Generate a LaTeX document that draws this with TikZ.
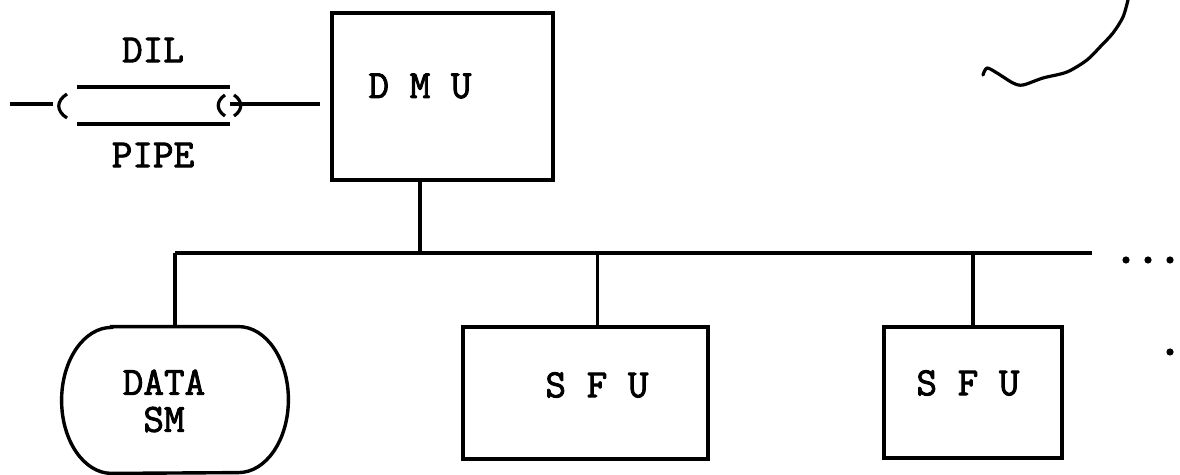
\documentclass[tikz,border=0pt]{standalone}
\usepackage{fontspec}
\newfontfamily\printfont{Latin Modern Mono}[FakeBold=2.2, AutoFakeBold=2.2]
\usepackage{tikz}
\usetikzlibrary{calc}

\begin{document}
\begin{tikzpicture}[x=0.5pt,y=-0.5pt,
    wire/.style={line width=1.6pt},
    unitbox/.style={draw, line width=1.7pt, inner sep=0pt},
    lbl/.style={font=\printfont\bfseries\fontsize{20}{18.5}\selectfont, inner sep=0pt, align=center}]
    \useasboundingbox (0,0) rectangle (1180,475);
    \node[lbl] (dil) at (153,50) {DIL};
    \node[lbl] (pipe) at (153,155) {PIPE};
    \coordinate (pipein) at (10,104); \coordinate (capl) at (53,104);
    \coordinate (capr) at (230,104); \coordinate (pipeout) at (320,104);
    \draw[wire] (pipein) -- (capl);
    \draw[wire] (67,94) .. controls (56,101) and (56,111) .. (67,118);
    \draw[wire] (77,87) -- (230,87);
    \draw[wire] (77,124) -- (230,124);
    \draw[wire] (225,95) .. controls (216,101) and (216,110) .. (225,116);
    \draw[wire] (234,95) .. controls (243,101) and (243,110) .. (234,116);
    \draw[wire] (capr) -- (pipeout);
    \node[unitbox, minimum width=110.5pt, minimum height=83.5pt] (dmu) at (442.5,96.5) {};
    \node[lbl] (dmulbl) at (420,86) {D M U};
    \node[inner sep=0pt, minimum width=113pt, minimum height=73pt] (dsm) at (175,400) {};
    \draw[line width=1.7pt] ($(dsm.north west)+(50,0)$) -- ($(dsm.north east)+(-50,0)$)
        arc[start angle=90, end angle=-90, x radius=25pt, y radius=36.5pt]
        -- ($(dsm.south west)+(50,0)$)
        arc[start angle=270, end angle=90, x radius=25pt, y radius=36.5pt] -- cycle;
    \node[lbl] (dsmlbl) at (164,401) {DATA\\SM};
    \node[unitbox, minimum width=122.5pt, minimum height=66pt] (sfua) at (585.5,393) {};
    \node[lbl] (sfualbl) at (597,385) {S F U};
    \node[unitbox, minimum width=89pt, minimum height=65.5pt] (sfub) at (973,392.5) {};
    \node[lbl] (sfublbl) at (968,383) {S F U};
    \coordinate (busl) at (175,253); \coordinate (busr) at (1092,253);
    \draw[wire] (busl) -- (busr);
    \coordinate (dmutap) at ($(dmu.south west)!0.4!(dmu.south east)$);
    \coordinate (sfuatap) at ($(sfua.north west)!0.547!(sfua.north east)$);
    \draw[wire] (dmutap) -- (dmutap |- busl);
    \draw[wire] (dsm.north) -- (busl);
    \draw[wire] (sfuatap) -- (sfuatap |- busl);
    \draw[wire] (sfub.north) -- (sfub.north |- busl);
    \fill (1126,260) circle (1.8pt) (1148,260) circle (1.8pt) (1170,260) circle (1.8pt);
    \fill (1170,352) circle (1.8pt);
    \draw[line width=1.6pt, line cap=round, line join=round] plot[smooth] coordinates {(1128,0) (1123,17) (1113,33) (1100,47) (1087,60) (1067,72) (1043,78) (1023,85) (1013,83) (997,73) (987,68) (983,75)};
\end{tikzpicture}
\end{document}
